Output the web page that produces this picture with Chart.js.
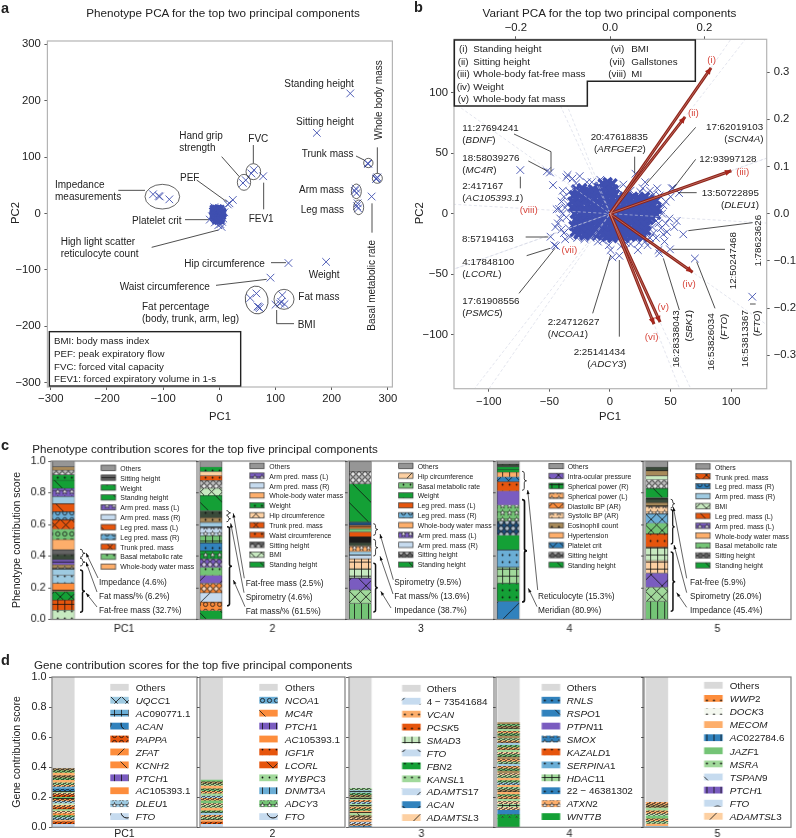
<!DOCTYPE html>
<html>
<head>
<meta charset="utf-8">
<title>PCA panels</title>
<script src="https://cdn.jsdelivr.net/npm/chart.js@4"></script>
<style>
  body { margin:0; background:#fff; width:796px; height:838px; overflow:hidden; position:relative; }
  canvas { position:absolute; }
  svg { position:absolute; left:0; top:0; }
  svg text { font-family:"Liberation Sans", Arial, sans-serif; fill:#222; dominant-baseline:central; white-space:pre; }
</style>
</head>
<body>
<canvas id="pheno"></canvas>
<canvas id="variant"></canvas>
<svg id="notes" width="796" height="838" xmlns="http://www.w3.org/2000/svg"></svg>
<script>
// ---- palette
const B1='#3182bd',B2='#6baed6',B3='#9ecae1',B4='#c6dbef',R1='#e6550d',O2='#fd8d3c',O3='#fdae6b',O4='#fdd0a2',
      G1='#14a036',G2='#74c476',G3='#a1d99b',G4='#c7e9c0',P1='#7a5cc0',K1='#636363',K2='#969696',K3='#bdbdbd',K4='#d9d9d9',
      T1='#a88a5a',D1='#3a4a3a',N1='#1f4e79',W1='#f4f8f0';
const CROSS='#3f4fb0', RED='#8e2318', REDTXT='#d8483e';

// ---- panel a: phenotype PCA
const phenoTicks = [-300,-200,-100,0,100,200,300];
const phenoPoints = [
  [233,213],[173.5,143],[264,89],[265,88],[280,62],[281,64],[279,61],[243,44],[244,36],[241,40],[246,18],[247,9],[245,13],
  [271,30],[78,66],[61.5,77],[57,71],[42,54],[47,59],[24,24],[18,18],[15,16],[-118,34],[-108,31],[-106,30],[-89,25],
  [123,-88],[190,-86],[91,-114],[55,-150],[66,-142],[70,-166],[68,-165],[72,-168],[112,-145],[110,-157],
  [100,-162],[108,-160],[116,-161],[-17,-11],[4,-24],[-2,-21],[2,-19],[-9,11],[-5,9],[-8,-16],[5,-15],[7,-9],[9,2],[-13,-5]
];
const phenoCore = [
  [-10,8],[-6,8],[-2,9],[2,8],[-11,4],[-7,5],[-3,4],[1,5],[5,3],[-10,0],[-6,1],[-2,0],[2,-1],[6,0],
  [-11,-4],[-7,-3],[-3,-5],[1,-4],[5,-4],[-9,-8],[-5,-9],[-1,-8],[3,-9],[-6,-12],[-2,-13],[2,-12]
];

// ---- panel b: variant PCA
const variantX = [-100,-50,0,50,100], variantY = [-100,-50,0,50,100];
const loadingTopTicks = [-0.2,0,0.2], loadingRightTicks = [-0.3,-0.2,-0.1,0,0.1,0.2,0.3];
const variantCore = [
  [-28,20],[-23,21],[-18,19],[-14,20],[-9,22],[-4,21],[-1,23],[3,20],[-6,25],[-2,26],[2,25],
  [-30,15],[-25,16],[-20,14],[-15,15],[-10,16],[-5,14],[0,15],[4,16],[14,13],[19,14],[24,13],[29,14],
  [-31,10],[-26,9],[-21,11],[-16,10],[-11,9],[-6,11],[-1,10],[4,9],[9,11],[14,10],[19,9],[24,11],[29,10],[34,9],[38,11],
  [-31,5],[-26,6],[-21,4],[-16,5],[-11,6],[-6,4],[-1,5],[4,6],[9,4],[14,5],[19,6],[24,4],[29,5],[34,6],[39,4],
  [-29,0],[-24,1],[-19,-1],[-14,0],[-9,1],[-4,-1],[1,0],[6,1],[11,-1],[16,0],[21,1],[26,-1],[31,0],[36,1],[38,-1],
  [-28,-5],[-23,-4],[-18,-6],[-13,-5],[-8,-4],[-3,-6],[2,-5],[7,-4],[12,-6],[17,-5],[22,-4],[27,-6],[32,-5],
  [-30,-10],[-25,-9],[-20,-11],[-15,-10],[-10,-9],[-5,-11],[0,-10],[5,-9],[10,-11],[15,-10],[20,-9],[25,-11],[30,-10],
  [-29,-15],[-24,-14],[-19,-16],[-14,-15],[-9,-14],[-4,-16],[1,-15],[6,-14],[11,-16],[16,-15],[21,-14],[26,-16],[30,-14],
  [-3,-19],[2,-20],[7,-18],[12,-20],[17,-19],[22,-18],[27,-19],
  [-26,18],[-21,17],[-16,18],[-11,18],[-6,18],[-2,18],[1,19],
  [-28,13],[-23,12],[-18,12],[-13,13],[-8,12],[-3,13],[2,12],[7,13],[12,14],[17,12],[22,12],[27,12],[32,12],
  [-29,8],[-24,7],[-19,7],[-14,8],[-9,7],[-4,8],[1,7],[6,8],[11,7],[16,7],[21,8],[26,7],[31,7],[36,7],
  [-27,3],[-22,2],[-17,3],[-12,3],[-7,2],[-2,3],[3,2],[8,3],[13,2],[18,3],[23,2],[28,3],[33,2],[37,3],
  [-26,-3],[-21,-2],[-16,-3],[-11,-2],[-6,-3],[-1,-2],[4,-3],[9,-2],[14,-3],[19,-2],[24,-3],[29,-2],[34,-3],
  [-27,-8],[-22,-7],[-17,-8],[-12,-7],[-7,-8],[-2,-7],[3,-8],[8,-7],[13,-8],[18,-7],[23,-8],[28,-8],
  [-27,-12],[-22,-13],[-17,-12],[-12,-13],[-7,-12],[-2,-13],[3,-12],[8,-13],[13,-12],[18,-13],[23,-12],[28,-13],
  [-26,-17],[-21,-18],[-16,-17],[-11,-18],[-6,-17],[-1,-18],[4,-17],[9,-18],[14,-17],[19,-18],[24,-17]
];
const variantFringe = [
  [-74,36],[70,-37],[117.4,-68.5],[60.5,-17],[49.5,-29.4],[40.7,-32.7],[7.7,-34.7],[0.5,-30],[-44.6,-26.7],[-49,-19],
  [-49.5,34],[-52,35],[-47,23.6],[57,17],[52,21],[-44,3.6],[-35,32],[-31,29],[-25,31],[-39,19],[-38,14],[-42,4],[-39,0],
  [-41,-4],[-45,-11],[-38,-16],[-46,-26],[-37,-21],[-10,-23],[-1,-26],[2,-36],[17,-25],[23,-30],[31,-26],[40,-30],[45,-23],
  [53,-11],[47,-15],[36,-16],[42,-12],[49,-4],[43,0],[46,10],[50,14],[51,21],[39,21],[29,26],[21,33],[-15,26],[-8,28],
  [6,21],[17,19],[25,18],[36,16],[-36,30],[-33,18],[-35,8],[-36,-3],[-34,-12],[-33,-19],[-27,-20],[-21,-21],[-16,-20],
  [41,15],[44,7],[42,3],[38,-6],[35,-11],[40,-8],[46,-8],[33,-20],[29,-23],[24,-24],[13,-24],[9,-27],[-6,-22],[-40,10],
  [-37,5],[-43,-8],[-40,-13],[33,19],[27,21],[11,24],[-19,26],[-28,25],[55,-6],[38,-20],[44,-17]
];
const loadingTipX = [0.214,0.159,0.257,0.175,0.106,0.093];
const loadingTipY = [0.309,0.205,0.091,-0.124,-0.230,-0.234];
const axisDirX = [0.214,0.159,0.257,0.175,0.106,0.093,-0.200,-0.300];
const axisDirY = [0.309,0.205,0.091,-0.124,-0.230,-0.234,-0.071,0.018];

// ---- panel c: phenotype contribution scores (bottom to top)
const c1Scores = [.059,.063,.055,.051,.051,.042,.025,.032,.032,.03,.065,.065,.059,.051,.051,.046,.051,.051,.034,.03,.021,.038];
const c1Fills  = [G4,R1,G1,O2,B3,B3,T1,P1,D1,K1,O3,G2,R1,B2,R1,B3,P1,G1,G1,K3,T1,K2];
const c1Marks  = ['.','+','x','-','.','-','*','-','.','-','','o','x','o','\\','','*','\\','.','O','-',''];
const c2Scores = [.055,.055,.059,.059,.05,.05,.055,.05,.05,.046,.05,.034,.03,.042,.097,.046,.05,.03,.025,.03,.034];
const c2Fills  = [G1,O2,B4,O2,P1,G2,P1,G1,B1,G2,B4,B3,T1,D1,G1,G4,K3,R1,O4,G1,K2];
const c2Marks  = ['\\','o','/','O','/','.','O','*','.','+','*','-','.','.','\\','x','O','.','-','.',''];
const c3Scores = [.101,.086,.074,.059,.063,.025,.021,.034,.021,.038,.03,.021,.021,.021,.24,.08,.063];
const c3Fills  = [G2,G3,P1,G4,O4,B4,B3,O3,D1,'#1b1b1b',R1,G2,O2,N1,G1,K3,K2];
const c3Marks  = ['|','x','X','+','+','-','','*','-','','','.','-','.','\\','O',''];
const c4Scores = [.114,.114,.101,.11,.093,.089,.101,.089,.059,.03,.03,.017,.017,.017,.021];
const c4Fills  = [B1,G1,G3,B2,G1,N1,G2,P1,R1,B1,O3,G1,G1,D1,K2];
const c4Marks  = ['/','.','+','.','','O','*','','.','x','+','','.','.',''];
const c5Scores = [.114,.089,.089,.08,.084,.084,.068,.059,.046,.025,.03,.059,.055,.025,.034,.021,.038];
const c5Fills  = [G2,G3,P1,O4,G4,R1,G2,B2,O4,T1,D1,G1,K3,G4,T1,D1,K2];
const c5Marks  = ['|','x','X','+','+','.','x','x','*','-','-','\\','O','','-','-',''];
const phenoBarLabels = ['PC1','2','3','4','5'];

const c1Names = ['Others','Sitting height','Weight','Standing height','Arm pred. mass (L)','Arm pred. mass (R)','Leg pred. mass (L)','Leg pred. mass (R)','Trunk pred. mass','Basal metabolic rate','Whole-body water mass'];
const c1KeyFills = [K2,K1,G1,G1,P1,B4,R1,B2,R1,G2,O3];
const c1KeyMarks = ['','-','.','\\','*','','\\','o','x','.',''];
const c2Names = ['Others','Arm pred. mass (L)','Arm pred. mass (R)','Whole-body water mass','Weight','Hip circumference','Trunk pred. mass','Waist circumference','Sitting height','BMI','Standing height'];
const c2KeyFills = [K2,P1,B4,O3,G1,O4,R1,R1,K1,G4,G1];
const c2KeyMarks = ['','*','','','.','x','x','.','O','x','\\'];
const c3Names = ['Others','Hip circumference','Basal metabolic rate','Weight','Leg pred. mass (L)','Leg pred. mass (R)','Whole-body water mass','Arm pred. mass (L)','Arm pred. mass (R)','Sitting height','Standing height'];
const c3KeyFills = [K2,O4,G2,G1,R1,B2,O3,P1,B4,K1,G1];
const c3KeyMarks = ['','/','.','.','\\','o','','*','','O','\\'];
const c4Names = ['Others','Intra-ocular pressure','Spherical power (R)','Spherical power (L)','Diastolic BP (AR)','Systolic BP (AR)','Eosinophil count','Hypertension','Platelet crit','Sitting height','Standing height'];
const c4KeyFills = [K2,P1,G1,O3,O2,O4,T1,O3,B1,K1,G1];
const c4KeyMarks = ['','x','+','*','x','*','.','','x','O','\\'];
const c5Names = ['Others','Trunk pred. mass','Leg pred. mass (R)','Arm pred. mass (R)','BMI','Leg pred. mass (L)','Arm pred. mass (L)','Whole-body water mass','Basal metabolic rate','Sitting height','Standing height'];
const c5KeyFills = [K2,R1,B1,B3,G4,R1,P1,O3,G2,K1,G1];
const c5KeyMarks = ['','x','o','','x','\\','*','','.','O','\\'];

// ---- panel d: gene contribution scores (bottom to top)
const d1Scores = [.02,.016,.012,.016,.014,.012,.016,.012,.014,.014,.012,.016,.012,.014,.016,.012,.012,.014,.014,.012,.016,.016,.016,.016,.016,.016,.014,.61];
const d1Fills  = [B4,R1,O3,B3,G2,O2,O4,G3,R1,O3,G4,B3,O2,G2,R1,O4,G3,B1,B2,O3,G3,O3,G2,T1,O3,G2,T1,K4];
const d1Marks  = ['C','.','-','.','.','-','.','-','.','.','-','.','.','-','.','.','-','.','-','.','.','-','.','.','-','.','.',''];
const d2Scores = [.02,.014,.016,.014,.016,.016,.014,.018,.016,.014,.018,.016,.016,.014,.018,.016,.018,.016,.012,.013,.685];
const d2Fills  = [B4,R1,O3,G3,O3,B3,G2,O3,G3,O4,G2,O3,B3,G3,O3,G2,O3,G3,T1,G2,K4];
const d2Marks  = ['C','.','-','.','.','-','.','-','.','.','-','.','.','-','.','.','-','.','.','-',''];
const d3Scores = [.008,.012,.014,.016,.012,.016,.014,.016,.014,.014,.016,.014,.014,.016,.016,.016,.016,.016,.735];
const d3Fills  = [B1,O3,B4,O3,O4,T1,G3,O3,G2,O3,G3,B3,O3,G3,T1,G2,B3,G3,K4];
const d3Marks  = ['/','.','.','-','.','.','\\','-','.','.','-','.','.','-','.','.','-','.',''];
const d4Scores = [.06,.025,.028,.02,.02,.02,.015,.016,.014,.016,.015,.017,.014,.016,.015,.017,.016,.014,.016,.015,.017,.014,.016,.016,.015,.017,.014,.016,.015,.016,.017,.014,.015,.016,.017,.015,.016,.016,.014,.012,.31];
const d4Fills  = [G1,G1,B1,O4,G3,O4,G3,O3,G2,O3,T1,G3,O3,B3,G2,O3,G3,O4,T1,G2,O3,B3,G3,O3,T1,G2,O4,G3,O3,G2,B3,O3,G3,T1,G2,O3,G3,T1,G2,T1,K4];
const d4Marks  = ['','*','','.','+','.','-','.','.','-','.','.','-','.','.','-','.','.','-','.','.','-','.','.','-','.','.','-','.','.','-','.','.','-','.','.','-','.','.','-',''];
const d5Scores = [.006,.016,.018,.016,.018,.016,.02,.018,.02,.018,.834];
const d5Fills  = [B3,O3,G3,O3,G2,G4,O3,G3,T1,O3,K4];
const d5Marks  = ['','-','.','.','-','.','.','-','.','.',''];
const geneBarLabels = ['PC1','2','3','4','5'];

const d1Names = ['Others','_UQCC_1','_AC_090771.1','_ACAN_','_PAPPA_','_ZFAT_','_KCNH_2','_PTCH_1','_AC_105393.1','_DLEU_1','_FTO_'];
const d1KeyFills = [K4,B3,B2,B1,R1,O2,O2,P1,O2,B3,B4];
const d1KeyMarks = ['','x','+','C','o','/','\\','|','','*','C'];
const d2Names = ['Others','_NCOA_1','_MC_4_R_','_PTCH_1','_AC_105393.1','_IGF_1_R_','_LCORL_','_MYBPC_3','_DNMT_3_A_','_ADCY_3','_FTO_'];
const d2KeyFills = [K4,B2,O2,P1,O2,R1,R1,G3,B2,G2,B4];
const d2KeyMarks = ['','o','\\','|','','.','X','.','|','*','C'];
const d3Names = ['Others','4 \u2212 73541684','_VCAN_','_PCSK_5','_SMAD_3','_FTO_','_FBN_2','_KANSL_1','_ADAMTS_17','_ACAN_','_ADAMTSL_3'];
const d3KeyFills = [K4,B4,O3,R1,G4,B4,G1,G3,B4,B1,O4];
const d3KeyMarks = ['','/','.','.','+','C','.','.','/','C','/'];
const d4Names = ['Others','_RNLS_','_RSPO_1','_PTPN_11','_SMOX_','_KAZALD_1','_SERPINA_1','_HDAC_11','22 \u2212 46381302','_ATXN_2','_WNT_7_B_'];
const d4KeyFills = [K4,B1,B1,P1,B1,R1,B2,G3,B1,O3,G1];
const d4KeyMarks = ['','.','\\','','*','.','.','+','.','*',''];
const d5Names = ['Others','_WWP_2','_DOCK_3','_MECOM_','_AC_022784.6','_JAZF_1','_MSRA_','_TSPAN_9','_PTCH_1','_FTO_','_ADAMTSL_3'];
const d5KeyFills = [K4,O2,W1,O3,B1,G2,G3,B4,P1,B4,O4];
const d5KeyMarks = ['','.','.','','|','','.','\\','|','C','/'];

// ---- hatch fills
const hatchCache = {};
function hatch(color, mark) {
  const key = color + mark;
  if (hatchCache[key]) return hatchCache[key];
  if (!mark) return color;
  const big = '/\\XC'.includes(mark), s = big ? 22 : mark === 'x' ? 11 : mark === 'O' ? 6 : mark === ':' ? 5 : 7;
  const cv = document.createElement('canvas');
  cv.width = cv.height = s;
  const c = cv.getContext('2d');
  c.fillStyle = color; c.fillRect(0,0,s,s);
  c.strokeStyle = '#111'; c.fillStyle = '#111'; c.lineWidth = 0.8;
  const ln = (a,b,d,e) => { c.beginPath(); c.moveTo(a,b); c.lineTo(d,e); c.stroke(); };
  if (mark === '/' || mark === 'x' || mark === 'X') { ln(-1,s+1,s+1,-1); ln(-1,1,1,-1); ln(s-1,s+1,s+1,s-1); }
  if (mark === '\\' || mark === 'x' || mark === 'X') { ln(-1,-1,s+1,s+1); ln(s-1,-1,s+1,1); ln(-1,s-1,1,s+1); }
  if (mark === '+' || mark === '|') ln(s/2,0,s/2,s);
  if (mark === '+' || mark === '-') ln(0,s/2,s,s/2);
  if (mark === '.') { c.beginPath(); c.arc(s/2,s/2,0.9,0,7); c.fill(); }
  if (mark === ':') { c.globalAlpha=.62; c.fillRect(0,0,3,1); c.fillRect(3,1,2,1); c.fillRect(1,2,3,1); c.fillRect(4,3,1,1); c.fillRect(0,3,1,1); c.fillRect(2,4,3,1); c.globalAlpha=1; }
  if (mark === 'o') { c.beginPath(); c.arc(s/2,s/2,2.1,0,7); c.stroke(); }
  if (mark === 'O') { c.fillStyle='rgba(255,255,255,.65)'; c.beginPath(); c.arc(s/2,s/2,2.3,0,7); c.fill(); c.stroke(); }
  if (mark === 'C') { c.lineWidth=1; c.beginPath(); c.arc(s/2,s/2,6,0,7); c.stroke(); }
  if (mark === '*') {
    c.fillStyle='#fff'; c.beginPath();
    for (let i=0;i<10;i++) { const r=i%2?1.1:3, t=-Math.PI/2+i*Math.PI/5; c.lineTo(s/2+r*Math.cos(t), s/2+r*Math.sin(t)); }
    c.closePath(); c.fill(); c.lineWidth=.6; c.stroke();
  }
  return hatchCache[key] = document.createElement('canvas').getContext('2d').createPattern(cv,'repeat');
}

// ---- shared chart helpers
const FONT = '"Liberation Sans", Arial, sans-serif';
const frame = color => ({ id:'frame', afterDatasetsDraw(ch) {
  const a = ch.chartArea, c = ch.ctx; c.save(); c.strokeStyle = color; c.lineWidth = 1.2;
  c.strokeRect(a.left,a.top,a.right-a.left,a.bottom-a.top); c.restore();
}});
const fmtInt = v => (v < 0 ? '\u2212' + (-v) : '' + v);
const fmtDec = v => (v < 0 ? '\u2212' + (-v).toFixed(1) : v.toFixed(1));

function axis(min, max, values, fmt, position, size, pad, fontSize) {
  return {
    type:'linear', position, min, max, offset:false,
    grid:{ display:true, drawOnChartArea:false, drawTicks:true, tickLength:3, tickColor:'#333', tickWidth:.8 },
    border:{ display:false },
    ticks:{ autoSkip:false, maxRotation:0, padding:pad, color:'#222', font:{ family:FONT, size:fontSize }, callback:fmt },
    afterBuildTicks:s => { s.ticks = values.map(value => ({ value })); },
    afterFit:s => {
      if (s.isHorizontal()) s.height = size; else s.width = size;
      s.paddingLeft = s.paddingRight = s.paddingTop = s.paddingBottom = 0;
    }
  };
}
function place(canvas, left, top, w, h) {
  canvas.width = w; canvas.height = h;
  canvas.style.left = left + 'px'; canvas.style.top = top + 'px';
  canvas.style.width = w + 'px'; canvas.style.height = h + 'px';
}
const asXY = pts => pts.map(p => ({ x:p[0], y:p[1] }));

// ---- panel a chart
place(document.getElementById('pheno'), 0, 30, 400, 385);
new Chart(document.getElementById('pheno'), {
  type:'scatter',
  data:{ datasets:[
    { data:asXY(phenoPoints), pointStyle:'crossRot', pointRadius:5.4, pointBorderWidth:.9, pointBorderColor:CROSS, pointBackgroundColor:CROSS },
    { data:asXY(phenoCore), pointStyle:'crossRot', pointRadius:5, pointBorderWidth:2.6, pointBorderColor:CROSS, pointBackgroundColor:CROSS }
  ]},
  options:{
    responsive:false, animation:false, devicePixelRatio:1,
    layout:{ padding:{ top:11, right:7, left:0, bottom:0 } },
    plugins:{ legend:{ display:false }, tooltip:{ enabled:false } },
    scales:{
      x:axis(-306, 308, phenoTicks, fmtInt, 'bottom', 28, 2.5, 11.3),
      y:axis(-308, 306, phenoTicks, fmtInt, 'left', 47.4, 3.5, 11.3)
    }
  },
  plugins:[frame('#b4b4b4')]
});

// ---- panel b chart
const rayDatasets = axisDirX.map((dx,i) => ({
  data:[{ x:dx*-9, y:axisDirY[i]*-9 },{ x:dx*9, y:axisDirY[i]*9 }], xAxisID:'x2', yAxisID:'y2', showLine:true, order:1,
  borderColor:'rgba(206,209,226,.72)', borderWidth:.8, borderDash:[3,2.2], pointRadius:0
}));
const arrowDatasets = loadingTipX.flatMap((dx,i) => [
  { data:[{x:0,y:0},{x:dx,y:loadingTipY[i]}], xAxisID:'x2', yAxisID:'y2', showLine:true, order:0, borderColor:RED, borderWidth:3, pointRadius:0 },
  { data:[{x:0,y:0},{x:dx,y:loadingTipY[i]}], xAxisID:'x2', yAxisID:'y2', showLine:true, order:-1, borderColor:'rgba(235,170,160,.7)', borderWidth:.7, pointRadius:0 }
]);
const arrowTips = { id:'arrowTips', afterDatasetsDraw(ch) {
  const c = ch.ctx, sx = ch.scales.x2, sy = ch.scales.y2;
  c.save(); c.fillStyle = '#a8261c';
  loadingTipX.forEach((dx,i) => {
    const px = sx.getPixelForValue(dx), py = sy.getPixelForValue(loadingTipY[i]);
    const t = Math.atan2(py - sy.getPixelForValue(0), px - sx.getPixelForValue(0));
    c.beginPath(); c.moveTo(px,py);
    c.lineTo(px-7*Math.cos(t-.45), py-7*Math.sin(t-.45));
    c.lineTo(px-7*Math.cos(t+.45), py-7*Math.sin(t+.45));
    c.closePath(); c.fill();
  });
  c.restore();
}};
place(document.getElementById('variant'), 420, 15, 376, 400);
new Chart(document.getElementById('variant'), {
  type:'scatter',
  data:{ datasets:[
    { data:asXY(variantFringe), order:3, pointStyle:'crossRot', pointRadius:5.4, pointBorderWidth:.9, pointBorderColor:CROSS },
    { data:asXY(variantCore), order:4, pointStyle:'crossRot', pointRadius:6, pointBorderWidth:3.4, pointBorderColor:CROSS },
    ...rayDatasets, ...arrowDatasets
  ]},
  options:{
    responsive:false, animation:false, devicePixelRatio:1,
    plugins:{ legend:{ display:false }, tooltip:{ enabled:false } },
    scales:{
      x:axis(-128.7, 129.3, variantX, fmtInt, 'bottom', 26.3, 3, 11.3),
      y:axis(-144.4, 143.9, variantY, fmtInt, 'left', 34, 3, 11.3),
      x2:axis(-0.331, 0.332, loadingTopTicks, fmtDec, 'top', 24.3, 1.5, 11.3),
      y2:axis(-0.3708, 0.3695, loadingRightTicks, fmtDec, 'right', 29.3, 4, 11.3)
    }
  },
  plugins:[frame('#b4b4b4'), arrowTips]
});

// ---- stacked contribution panels
function stackPanel(o) {
  const canvas = document.createElement('canvas');
  document.body.insertBefore(canvas, document.getElementById('notes'));
  const headroom = 8;
  const left = o.x - o.marginLeft, top = o.top - headroom, w = o.w + o.marginLeft + 2, h = o.h + headroom + o.marginBottom;
  place(canvas, left, top, w, h);
  const keys = { id:'keys', afterDatasetsDraw(ch) {
    const c = ch.ctx;
    o.keyFills.forEach((f,i) => {
      const y = o.keyY + i*o.keyStep - top - o.keyH/2;
      c.fillStyle = hatch(f, o.keyMarks[i]);
      c.fillRect(o.keyX-left, y, o.keyW, o.keyH);
      if (o.edge) { c.strokeStyle='#333'; c.lineWidth=.7; c.strokeRect(o.keyX-left, y, o.keyW, o.keyH); }
    });
  }};
  new Chart(canvas, {
    type:'bar',
    data:{ datasets:o.scores.map((v,i) => ({
      data:[{ x:(o.barX-o.x)/o.w, y:v }],
      backgroundColor:hatch(o.fills[i], o.fine && o.marks[i] === '.' ? ':' : o.marks[i]),
      borderColor:'#2a2a2a', borderWidth:o.edge ? .6 : 0,
      barThickness:o.barW, stack:'s'
    }))},
    options:{
      responsive:false, animation:false, devicePixelRatio:1,
      layout:{ padding:{ top:headroom, right:2, left:0, bottom:0 } },
      plugins:{ legend:{ display:false }, tooltip:{ enabled:false } },
      scales:{
        x:{ ...axis(0, 1, [0.5], () => o.label, 'bottom', o.marginBottom, o.labelPad, 10.5),
            stacked:true, grid:{ display:false, drawTicks:false } },
        y:{ ...axis(0, 1, [0,.2,.4,.6,.8,1], o.first ? fmtDec : () => '', 'left', o.marginLeft, 2.5, 10.8), stacked:true }
      }
    },
    plugins:[frame('#7f7f7f'), keys]
  });
}

// frame boxes per column
const cBoxes = [[51,145.7,63.2,100.7,120.3,468],[199.3,146.4,211.3,249.7,269.3,466],[347.7,146,360,398.4,417.7,466],[496,146.7,508.2,548.7,567.7,466.3],[644.3,146.4,657,695.7,715,466.7]];
const dBoxes = [[51.7,145,63.2,110,135.7,687],[200,145,211.8,259.3,285,687],[349,144.7,360.4,401.7,426.7,688],[496,146.7,508.5,541.3,566.7,687],[644.3,146.4,657.2,704,729.7,685]];
const cScores=[c1Scores,c2Scores,c3Scores,c4Scores,c5Scores], cFills=[c1Fills,c2Fills,c3Fills,c4Fills,c5Fills], cMarks=[c1Marks,c2Marks,c3Marks,c4Marks,c5Marks];
const cKeyF=[c1KeyFills,c2KeyFills,c3KeyFills,c4KeyFills,c5KeyFills], cKeyM=[c1KeyMarks,c2KeyMarks,c3KeyMarks,c4KeyMarks,c5KeyMarks], cNames=[c1Names,c2Names,c3Names,c4Names,c5Names];
const dScores=[d1Scores,d2Scores,d3Scores,d4Scores,d5Scores], dFills=[d1Fills,d2Fills,d3Fills,d4Fills,d5Fills], dMarks=[d1Marks,d2Marks,d3Marks,d4Marks,d5Marks];
const dKeyF=[d1KeyFills,d2KeyFills,d3KeyFills,d4KeyFills,d5KeyFills], dKeyM=[d1KeyMarks,d2KeyMarks,d3KeyMarks,d4KeyMarks,d5KeyMarks], dNames=[d1Names,d2Names,d3Names,d4Names,d5Names];

cBoxes.forEach((b,i) => stackPanel({
  x:b[0], w:b[1], barX:b[2], barW:22, top:461.3, h:158, first:i===0, marginLeft:i===0?46:4, marginBottom:18.5, labelPad:3.5, label:phenoBarLabels[i],
  scores:cScores[i], fills:cFills[i], marks:cMarks[i], edge:true,
  keyFills:cKeyF[i], keyMarks:cKeyM[i], keyX:b[3], keyY:b[5], keyW:14.3, keyH:5.3, keyStep:9.83
}));
dBoxes.forEach((b,i) => stackPanel({
  x:b[0], w:b[1], barX:b[2], barW:21.5, top:676.7, h:150.6, first:i===0, marginLeft:i===0?46:4, marginBottom:10.7, labelPad:0.5, label:geneBarLabels[i],
  scores:dScores[i], fills:dFills[i], marks:dMarks[i], edge:false, fine:true,
  keyFills:dKeyF[i], keyMarks:dKeyM[i], keyX:b[3], keyY:b[5], keyW:18.4, keyH:6.8, keyStep:i===4?13.1:12.93
}));

// ---- overlay: text, leaders, boxes
const svg = document.getElementById('notes'), NS = 'http://www.w3.org/2000/svg';
function el(tag, attrs, parent) {
  const e = document.createElementNS(NS, tag);
  for (const k in attrs) e.setAttribute(k, attrs[k]);
  (parent || svg).appendChild(e);
  return e;
}
function text(x, y, str, size, opt) {
  opt = opt || {};
  const attrs = { x, y, 'font-size':size };
  if (opt.anchor) attrs['text-anchor'] = opt.anchor;
  if (opt.weight) attrs['font-weight'] = opt.weight;
  if (opt.rot) { attrs['text-anchor'] = opt.anchor || 'middle'; attrs.transform = `rotate(${opt.rot} ${x} ${y})`; }
  const t = el('text', attrs);
  if (opt.color) t.style.fill = opt.color;
  str.split('_').forEach((part,i) => {
    if (!part) return;
    const s = el('tspan', i % 2 ? { 'font-style':'italic' } : {}, t);
    s.textContent = part;
  });
  return t;
}
function poly(points, width, color) {
  el('polyline', { points:points.join(' '), fill:'none', stroke:color || '#222', 'stroke-width':width || .8 });
}
function brace(x, y1, y2, w, sw) {
  const m = (y1+y2)/2, d = Math.min(2, (y2-y1)/5), h = w/2;
  el('path', { d:`M${x} ${y1}Q${x+h} ${y1} ${x+h} ${y1+d}L${x+h} ${m-d}Q${x+h} ${m} ${x+w} ${m}Q${x+h} ${m} ${x+h} ${m+d}L${x+h} ${y2-d}Q${x+h} ${y2} ${x} ${y2}`,
    fill:'none', stroke:'#111', 'stroke-width':sw });
}
function arrow(x1, y1, x2, y2) {
  poly([x1,y1,x2,y2], .7, '#222');
  const t = Math.atan2(y2-y1, x2-x1), L = 4.5;
  el('polygon', { fill:'#111', points:[x2,y2,x2-L*Math.cos(t-.35),y2-L*Math.sin(t-.35),x2-L*Math.cos(t+.35),y2-L*Math.sin(t+.35)].join(' ') });
}

// panel letters + titles
text(1,8,'a',14.5,{weight:'bold'}); text(414,7,'b',14.5,{weight:'bold'}); text(1,445,'c',14.5,{weight:'bold'}); text(1,660,'d',14.5,{weight:'bold'});
text(223,12,'Phenotype PCA for the top two principal components',11.7,{anchor:'middle'});
text(609.5,12,'Variant PCA for the top two principal components',11.7,{anchor:'middle'});
text(32.3,448.3,'Phenotype contribution scores for the top five principal components',11.6,{});
text(34,664,'Gene contribution scores for the top five principal components',11.6,{});
text(15,213,'PC2',11.3,{rot:-90}); text(220,415.7,'PC1',11.3,{anchor:'middle'});
text(419,213.3,'PC2',11.3,{rot:-90}); text(610,415.7,'PC1',11.3,{anchor:'middle'});
text(15.7,540,'Phenotype contribution score',10.5,{rot:-90});
text(15.7,752,'Gene contribution score',10.5,{rot:-90});

// panel a: 3x reference coordinates
const aLabels = [
  [853,248,'Standing height'],[888,362,'Sitting height'],[538,405,'Hand grip'],[538,441,'strength'],[745,415,'FVC'],
  [905,458,'Trunk mass'],[165,551,'Impedance'],[165,587,'measurements'],[540,530,'PEF'],[897,566,'Arm mass'],[902,628,'Leg mass'],
  [746,654,'FEV1'],[396,660,'Platelet crit'],[182,724,'High light scatter'],[182,760,'reticulocyte count'],[553,790,'Hip circumference'],
  [926,823,'Weight'],[359,858,'Waist circumference'],[895,888,'Fat mass'],[426,918,'Fat percentage'],[426,954,'(body, trunk, arm, leg)'],[893,971,'BMI']
];
aLabels.forEach(l => text(l[0]/3,l[1]/3,l[2],10));
text(1133/3,300/3,'Whole body mass',10,{rot:-90});
text(1114/3,856/3,'Basal metabolic rate',10,{rot:-90});
const aLeaders = [
  [1068,468,1092,480],[1132,442,1132,520],[760,435,760,490],[791,548,791,628],[665,470,718,530],[590,540,680,605],[355,571,435,571],
  [555,659,625,659],[455,742,655,690],[813,788,858,788],[648,856,800,838],[830,930,830,971,882,971],[1116,610,1116,698]
];
aLeaders.forEach(l => poly(l.map(v => v/3)));
const aRings = [[487,590,52,37,0],[760,515,22,24,0],[732,547,20,24,0],[1105,489,14,14,0],[1132,535,15,15,0],[1069,574,15,22,0],[1076,622,15,22,0],[770,900,34,42,-10],[852,898,30,30,0]];
aRings.forEach(r => el('ellipse',{cx:r[0]/3,cy:r[1]/3,rx:r[2]/3,ry:r[3]/3,fill:'none',stroke:'#222','stroke-width':.7,transform:`rotate(${r[4]} ${r[0]/3} ${r[1]/3})`}));
el('rect',{x:148/3,y:995/3,width:574/3,height:163/3,fill:'#fff',stroke:'#222','stroke-width':1.4});
['BMI: body mass index','PEF: peak expiratory flow','FVC: forced vital capacity','FEV1: forced expiratory volume in 1-s']
  .forEach((s,i) => text(162/3,(1021+38*i)/3,s,9.7));

// panel b: 3x reference coordinates, x from 400
const bx = v => 400 + v/3;
el('polygon',{points:[163,120,886,120,886,244,562,244,562,318,163,318].map((v,i)=> i%2 ? v/3 : bx(v)).join(' '),fill:'#fff',stroke:'#222','stroke-width':1.5});
[[177,145,'(i)'],[173,182,'(ii)'],[170,220,'(iii)'],[170,257,'(iv)'],[173,294,'(v)'],[632,145,'(vi)'],[628,182,'(vii)'],[625,220,'(viii)']]
  .forEach(l => text(bx(l[0]),l[1]/3,l[2],9.8));
[[220,145,'Standing height'],[220,182,'Sitting height'],[220,220,'Whole-body fat-free mass'],[220,257,'Weight'],[220,294,'Whole-body fat mass'],[694,145,'BMI'],[694,182,'Gallstones'],[694,220,'MI']]
  .forEach(l => text(bx(l[0]),l[1]/3,l[2],9.8));
const bLabels = [
  [187,381,'11:27694241'],[187,417,'(_BDNF_)'],[187,472,'18:58039276'],[187,508,'(_MC4R_)'],[187,554,'2:417167'],[187,590,'(_AC105393.1_)'],
  [572,408,'20:47618835'],[582,445,'(_ARFGEF2_)'],[918,377,'17:62019103'],[973,414,'(_SCN4A_)'],[898,474,'12:93997128'],
  [905,576,'13:50722895'],[963,612,'(_DLEU1_)'],[186,715,'8:57194163'],[187,782,'4:17848100'],[187,818,'(_LCORL_)'],
  [187,901,'17:61908556'],[187,937,'(_PSMC5_)'],[443,962,'2:24712627'],[443,998,'(_NCOA1_)'],[521,1053,'2:25141434'],[562,1090,'(_ADCY3_)']
];
bLabels.forEach(l => text(bx(l[0]),l[1]/3,l[2],9.8));
[[1072,722,'1:78623626'],[995,782,'12:50247468'],[826,1017,'16:28338043'],[864,977,'(_SBK1_)'],[930,1026,'16:53826034'],[968,980,'(_FTO_)'],[1031,1016,'16:53813367'],[1068,970,'(_FTO_)']]
  .forEach(l => text(bx(l[0]),l[1]/3,l[2],9.8,{rot:-90}));
[[935,178,'(i)'],[880,337,'(ii)'],[1028,514,'(iii)'],[867,849,'(iv)'],[790,917,'(v)'],[755,1008,'(vi)'],[508,746,'(vii)'],[386,627,'(viii)']]
  .forEach(l => text(bx(l[0]),l[1]/3,l[2],9.8,{anchor:'middle',color:REDTXT}));
const bLeaders = [
  [342,402,453,455,453,515],[385,483,440,512],[361,530,361,565],[377,711,445,711],[380,767,450,745],[357,880,465,745],[704,470,704,520],
  [887,382,740,550],[887,478,820,565],[890,578,835,578],[1058,668,865,692],[975,748,815,748],[838,930,790,775],[945,925,890,785],
  [1050,912,1067,912],[578,940,632,765],[658,1010,658,780]
];
bLeaders.forEach(l => poly(l.map((v,i) => i%2 ? v/3 : bx(v))));

// panel c legends and notes
cNames.forEach((names,i) => names.forEach((n,k) => text(cBoxes[i][4], cBoxes[i][5]+k*9.83, n, 6.9)));
const cNotes = [
  [99,582,'Impedance (4.6%)'],[99,595.7,'Fat mass/% (6.2%)'],[99,610,'Fat-free mass (32.7%)'],
  [245.7,583,'Fat-free mass (2.5%)'],[245.7,597,'Spirometry (4.6%)'],[245.7,611,'Fat mass/% (61.5%)'],
  [394.3,582,'Spirometry (9.5%)'],[394.3,596,'Fat mass/% (13.6%)'],[394.3,610,'Impedance (38.7%)'],
  [538,596,'Reticulocyte (15.3%)'],[538,610,'Meridian (80.9%)'],
  [690,582,'Fat-free (5.9%)'],[690,596,'Spirometry (26.0%)'],[690,610,'Impedance (45.4%)']
];
cNotes.forEach(l => text(l[0],l[1],l[2],8.3));
const cBraces = [
  [80,549.3,557.3,5,.8],[80,558.3,566,5,.8],[80,570,612.3,5,1.5],
  [226.5,510.7,515,4,.8],[226.5,515.7,521.7,4,.8],[227,526.7,605.7,5,1.6],
  [373.3,523.7,535.3,4.5,.8],[373.3,539.3,556,4.5,.8],[373.3,563.3,612,4.5,1.5],
  [522,471.3,490.3,4.5,.8],[522,499.7,602,5,1.7],
  [670.7,499.3,508,4,.8],[670.7,509.7,544,4,1.2],[670.7,552,611.3,4.5,1.5]
];
cBraces.forEach(b => brace(b[0],b[1],b[2],b[3],b[4]));
const cArrows = [
  [98,578,86,553],[97,592,86,562],[97,607,86,593],
  [244.3,578.3,233.3,513.3],[244,592.7,230.7,523.3],[245,606.7,233.3,580],
  [393.3,579.7,380,534],[393,594,380,556.3],[391,608,380.7,591.3],
  [537.7,590,527.7,490],[537,606.7,528.3,588.3],
  [686.7,578.3,673.3,507],[686.7,592.7,674,545],[686.7,607.3,676.7,592.7]
];
cArrows.forEach(a => arrow(a[0],a[1],a[2],a[3]));

// panel d legends
dNames.forEach((names,i) => names.forEach((n,k) => text(dBoxes[i][4], dBoxes[i][5]+k*(i===4?13.1:12.93), n, 9.9)));
</script>
</body>
</html>
